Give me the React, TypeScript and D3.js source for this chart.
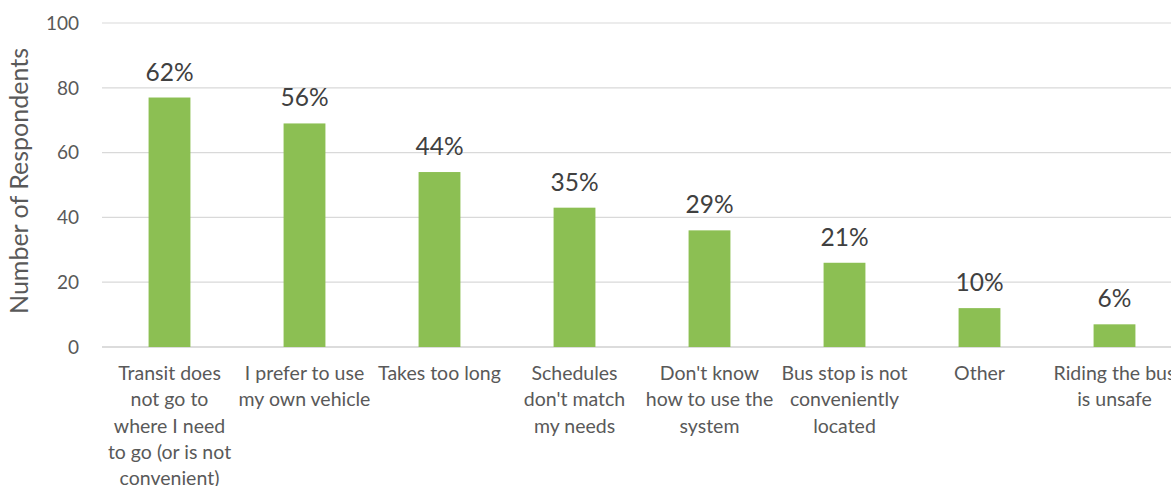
import React from 'react';
import * as d3 from 'd3';

// Survey data
const categories = [
  ['Transit does', 'not go to', 'where I need', 'to go (or is not', 'convenient)'],
  ['I prefer to use', 'my own vehicle'],
  ['Takes too long'],
  ['Schedules', "don't match", 'my needs'],
  ["Don't know", 'how to use the', 'system'],
  ['Bus stop is not', 'conveniently', 'located'],
  ['Other'],
  ['Riding the bus', 'is unsafe'],
];
const respondents = [77, 69, 54, 43, 36, 26, 12, 7];
const percentLabels = ['62%', '56%', '44%', '35%', '29%', '21%', '10%', '6%'];
const yTicks = [0, 20, 40, 60, 80, 100];

const W = 1171;
const H = 486;
const plot = { left: 102, right: 1182, top: 23, bottom: 347 };
const FONT = 'Lato, "Open Sans", sans-serif';

export default function App() {
  const x = d3
    .scaleBand<number>()
    .domain(d3.range(respondents.length))
    .range([plot.left, plot.right])
    .paddingInner(0.69)
    .paddingOuter(0.345);
  const y = d3.scaleLinear().domain([0, 100]).range([plot.bottom, plot.top]);

  return (
    <div style={{ position: 'fixed', left: 0, top: 0 }}>
      <svg width={W} height={H} style={{ display: 'block', background: '#fff' }} fontFamily={FONT}>
        {/* gridlines */}
        {yTicks.map((t) => (
          <line
            key={t}
            x1={plot.left}
            x2={W}
            y1={y(t)}
            y2={y(t)}
            stroke={t === 0 ? '#d0d0d0' : '#d9d9d9'}
            strokeWidth={t === 0 ? 1.5 : 1.2}
          />
        ))}
        {/* y tick labels */}
        {yTicks.map((t) => (
          <text key={t} x={79} y={y(t)} dy="0.36em" textAnchor="end" fontSize={19} fill="#595959">
            {t}
          </text>
        ))}
        <text
          transform={`translate(28,${181}) rotate(-90)`}
          textAnchor="middle"
          fontSize={25}
          fill="#595959"
        >
          Number of Respondents
        </text>
        {/* bars */}
        {respondents.map((v, i) => (
          <rect key={i} x={x(i)} y={y(v)} width={x.bandwidth()} height={y(0) - y(v)} fill="#8cbf53" />
        ))}
        {/* data labels */}
        {respondents.map((v, i) => (
          <text
            key={i}
            x={(x(i) as number) + x.bandwidth() / 2}
            y={y(v) - 17}
            textAnchor="middle"
            fontSize={24.5}
            fill="#404040"
          >
            {percentLabels[i]}
          </text>
        ))}
        {/* category labels */}
        {categories.map((lines, i) => (
          <text
            key={i}
            x={(x(i) as number) + x.bandwidth() / 2}
            y={380}
            textAnchor="middle"
            fontSize={19.5}
            fill="#595959"
          >
            {lines.map((l, j) => (
              <tspan key={j} x={(x(i) as number) + x.bandwidth() / 2} y={380 + j * 26.3}>
                {l}
              </tspan>
            ))}
          </text>
        ))}
      </svg>
    </div>
  );
}
